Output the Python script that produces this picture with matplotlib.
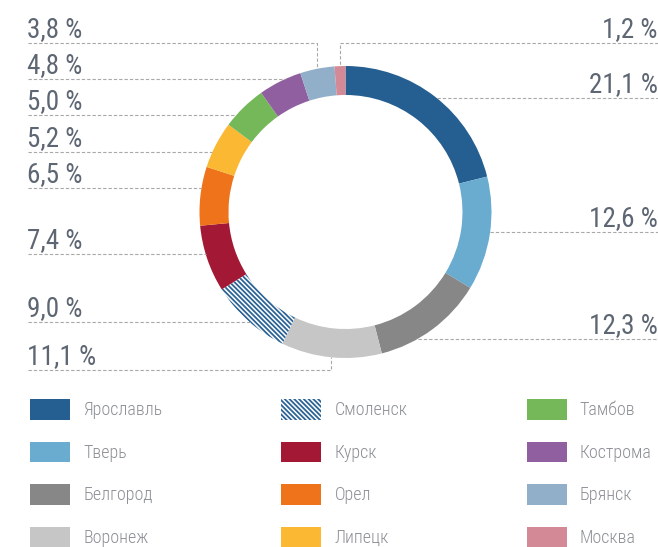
import numpy as np
import matplotlib
matplotlib.use("Agg")
import matplotlib.pyplot as plt

# shares by region, clockwise from the top of the ring
regions = ['Ярославль', 'Тверь', 'Белгород', 'Воронеж', 'Смоленск', 'Курск',
           'Орел', 'Липецк', 'Тамбов', 'Кострома', 'Брянск', 'Москва']
shares = [21.1, 12.6, 12.3, 11.1, 9.0, 7.4, 6.5, 5.2, 5.0, 4.8, 3.8, 1.2]
colors = ['#255f91', '#6aabd0', '#878787', '#c6c6c6', '#ffffff', '#a31834',
          '#ee731b', '#fbb832', '#74b85a', '#905fa0', '#91afc9', '#d48a96']

# label placement: side, height of the leader line (px from top), leader kind
label_side = ['r', 'r', 'r', 'l', 'l', 'l', 'l', 'l', 'l', 'l', 'l', 'r']
label_y = [98, 232, 339, 370, 322, 254, 188, 152, 115, 79, 43, 43]
label_kind = ['h', 'h', 'h', 'v', 'h', 'h', 'h', 'h', 'h', 'h', 'v', 'v']

W, H = 658, 547
plt.rcParams['font.family'] = ['Roboto Condensed', 'DejaVu Sans']
plt.rcParams['hatch.linewidth'] = 1.3

fig = plt.figure(figsize=(W / 100, H / 100), dpi=100)
ax = fig.add_axes([0, 0, 1, 1])

cx, cy, R, ring = 345.5, 212, 146, 29


def Y(y):
    return H - y


wedges, _ = ax.pie(shares, colors=colors, startangle=90, counterclock=False,
                   center=(cx, Y(cy)), radius=R,
                   wedgeprops=dict(width=ring, linewidth=0))
# Смоленск is hatched
wedges[4].set_hatch('\\' * 7)
wedges[4].set_edgecolor('#2d6496')
wedges[4].set_linewidth(0)

ax.set_xlim(0, W)
ax.set_ylim(0, H)
ax.set_aspect('equal')
ax.axis('off')

line_kw = dict(color='#a8a8a8', lw=0.8, linestyle=(0, (3, 1.8)))
text_kw = dict(fontsize=19.5, color='#5d6672')

cum = np.cumsum([0] + shares[:-1])
for i, v in enumerate(shares):
    theta = np.deg2rad((cum[i] + v / 2) * 3.6)
    y = label_y[i]
    txt = f"{v:.1f} %".replace('.', ',')
    if label_kind[i] == 'v':
        xm = cx + R * np.sin(theta)
        ym = cy - R * np.cos(theta)
        if label_side[i] == 'l':
            ax.plot([28, xm, xm], [Y(y), Y(y), Y(ym)], **line_kw)
        else:
            ax.plot([W, xm, xm], [Y(y), Y(y), Y(ym)], **line_kw)
    else:
        dx = np.sqrt(R ** 2 - (y - cy) ** 2)
        if label_side[i] == 'l':
            ax.plot([28, cx - dx], [Y(y), Y(y)], **line_kw)
        else:
            ax.plot([cx + dx, W], [Y(y), Y(y)], **line_kw)
    if label_side[i] == 'l':
        ax.text(27, Y(y - 6), txt, ha='left', va='baseline', **text_kw)
    else:
        ax.text(658, Y(y - 6), txt, ha='right', va='baseline', **text_kw)

leg = ax.legend(wedges, regions, ncol=3, loc='upper left',
                bbox_to_anchor=(30 / W, 1 - 399 / H), frameon=False,
                prop=dict(family='Roboto Condensed', weight='light', size=13),
                labelcolor='#8c9096', borderpad=0,
                borderaxespad=0, handlelength=2.22, handleheight=1.4,
                handletextpad=0.72, columnspacing=6.6, labelspacing=1.2)

fig.savefig('out.png', dpi=100)
